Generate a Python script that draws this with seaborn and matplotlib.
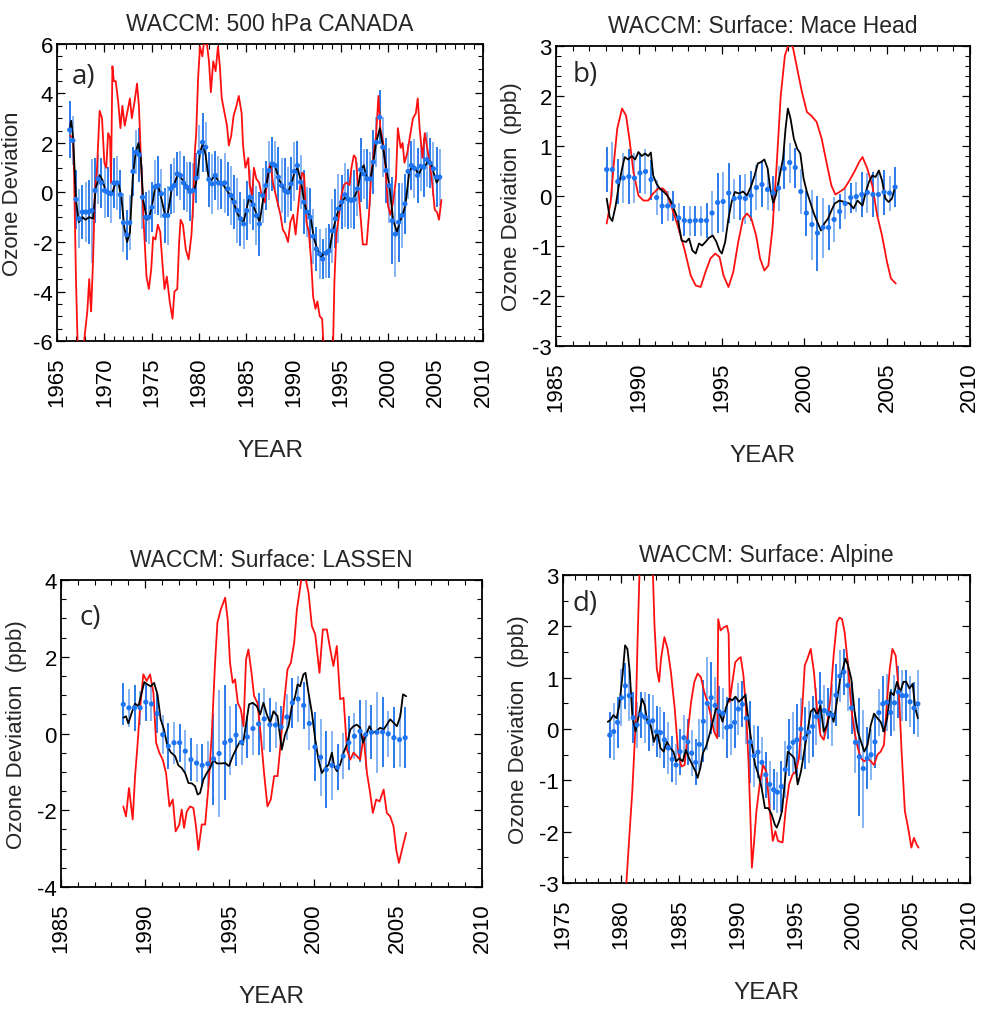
import numpy as np
import matplotlib
matplotlib.use("Agg")
import matplotlib.pyplot as plt
import seaborn as sns
from matplotlib.ticker import MultipleLocator

sns.set_style("ticks")
SANS = ["Liberation Sans", "DejaVu Sans"]
NARROW = ["Liberation Sans Narrow", "Liberation Sans", "DejaVu Sans"]
LABELF = ["Open Sans", "DejaVu Sans"]
plt.rcParams["font.family"] = SANS
plt.rcParams["axes.unicode_minus"] = False

# ---------------- Panel a: 500 hPa CANADA ----------------
a_red_years = [1966.4, 1966.7, 1966.8, 1967.0, 1967.2, 1967.6, 1968.0, 1968.2, 1968.4, 1968.5, 1968.6,
               1968.8, 1969.0, 1969.2, 1969.5, 1969.75, 1970.0, 1970.2, 1970.4, 1970.6, 1970.7, 1970.85,
               1971.0, 1971.2, 1971.45, 1971.7, 1971.9, 1972.15, 1972.4, 1972.7, 1972.9, 1973.2, 1973.45,
               1973.65, 1973.85, 1974.15, 1974.45, 1974.7, 1974.95, 1975.15, 1975.4, 1975.65, 1975.9,
               1976.1, 1976.35, 1976.6, 1976.9, 1977.2, 1977.4, 1977.7, 1977.9, 1978.05, 1978.3, 1978.6,
               1978.9, 1979.2, 1979.4, 1979.55, 1979.7, 1979.9, 1980.1, 1980.35, 1980.5, 1980.8, 1981.05,
               1981.25, 1981.5, 1981.75, 1982.0, 1982.2, 1982.4, 1982.7, 1982.95, 1983.15, 1983.4, 1983.65,
               1983.95, 1984.2, 1984.5, 1984.65, 1984.9, 1985.2, 1985.35, 1985.6, 1985.8, 1986.05, 1986.35,
               1986.6, 1986.95, 1987.3, 1987.55, 1987.8, 1988.1, 1988.35, 1988.6, 1988.85, 1989.15, 1989.4,
               1989.65, 1989.95, 1990.2, 1990.45, 1990.7, 1990.9, 1991.1, 1991.35, 1991.6, 1991.85, 1992.05,
               1992.3, 1992.5, 1992.75, 1993.0, 1993.2, 1993.7, 1994.15, 1994.3, 1994.5, 1994.8, 1995.05,
               1995.3, 1995.55, 1995.9, 1996.1, 1996.35, 1996.55, 1996.8, 1997.05, 1997.3, 1997.7, 1997.95,
               1998.2, 1998.45, 1998.7, 1998.95, 1999.15, 1999.45, 1999.7, 1999.95, 2000.2, 2000.5, 2000.8,
               2001.0, 2001.3, 2001.5, 2001.7, 2002.0, 2002.25, 2002.6, 2002.9, 2003.1, 2003.3, 2003.6,
               2003.85, 2004.1, 2004.4, 2004.65, 2004.9, 2005.15, 2005.35, 2005.6]
a_red_vals = [2.3, 2.2, 0.8, -3.5, -6.5, -7.0, -5.5, -4.8, -3.5, -4.2, -4.8,
              -2.8, 0.1, 0.8, 3.3, 3.0, 1.2, 1.0, 2.4, 2.2, 0.4, 5.1,
              4.5, 4.5, 3.7, 2.6, 3.5, 2.7, 3.2, 3.8, 3.0, 3.7, 4.4,
              3.5, 1.5, -1.2, -3.4, -3.9, -3.1, -1.8, -1.9, -1.3, -1.6,
              -2.7, -3.9, -3.4, -4.4, -5.1, -4.0, -3.9, -2.0, -1.1, -1.3, -2.3,
              -2.7, -1.7, -0.3, 1.6, 2.4, 4.6, 5.9, 5.5, 6.0, 6.1, 5.3,
              4.05, 5.3, 4.9, 5.9, 5.1, 3.8, 3.2, 2.7, 1.9, 2.3, 3.1,
              3.5, 3.9, 3.2, 1.9, 1.0, 1.4, 0.3, -0.1, 1.0, 0.55, 0.4,
              -0.1, -0.4, 0.8, 1.2, 0.4, -0.1, -0.5, -0.9, -1.5, -1.7, -2.0,
              -1.2, -0.9, -1.7, -0.7, 0.3, 0.8, 0.7, -1.2, -1.6, -2.8, -4.2,
              -4.7, -4.4, -5.0, -5.1, -6.5, -7.0, -6.3, -3.6, -1.7, -0.9, -0.1,
              0.3, 0.4, 0.3, 1.0, 1.5, 1.4, 0.3, -0.9, -2.1, -2.1, -0.9,
              0.8, 1.6, 2.3, 3.9, 2.6, 2.0, 1.0, -0.5, -0.9, -0.4, 0.55,
              2.6, 1.8, 2.0, 1.2, 1.6, 2.2, 3.0, 3.2, 3.8, 2.6, 1.4,
              2.4, 1.8, 1.1, 0.3, -0.7, -0.8, -1.1, -0.3]
a_black_years = [1966.3, 1966.5, 1966.7, 1967.0, 1967.3, 1967.7, 1968.0, 1968.4, 1968.8, 1969.1, 1969.5,
                 1969.8, 1970.1, 1970.5, 1970.8, 1971.2, 1971.5, 1971.8, 1972.1, 1972.4, 1972.7, 1973.0,
                 1973.3, 1973.6, 1973.85, 1974.1, 1974.5, 1974.8, 1975.1, 1975.4, 1975.7, 1976.0, 1976.4,
                 1976.7, 1977.1, 1977.4, 1977.8, 1978.1, 1978.5, 1978.8, 1979.2, 1979.5, 1979.8, 1980.1,
                 1980.4, 1980.7, 1981.0, 1981.3, 1981.7, 1982.1, 1982.5, 1982.9, 1983.3, 1983.7, 1984.0,
                 1984.4, 1984.7, 1985.0, 1985.3, 1985.7, 1986.1, 1986.4, 1986.8, 1987.1, 1987.4, 1987.7,
                 1988.0, 1988.4, 1988.7, 1989.1, 1989.4, 1989.8, 1990.1, 1990.4, 1990.8, 1991.1, 1991.4,
                 1991.8, 1992.1, 1992.5, 1992.9, 1993.1, 1993.4, 1993.8, 1994.1, 1994.5, 1994.8, 1995.1,
                 1995.4, 1995.7, 1996.1, 1996.4, 1996.8, 1997.1, 1997.4, 1997.7, 1998.1, 1998.4, 1998.7,
                 1999.1, 1999.4, 1999.8, 2000.1, 2000.5, 2000.9, 2001.2, 2001.5, 2001.8, 2002.2, 2002.5,
                 2002.8, 2003.2, 2003.5, 2003.8, 2004.2, 2004.5, 2004.7, 2005.1, 2005.4]
a_black_vals = [2.5, 2.9, 2.2, -0.3, -1.2, -1.0, -1.1, -1.0, -1.05, 0.2, 0.7,
                0.5, 0.1, 0.0, -0.05, 0.4, 0.35, -0.2, -1.4, -2.0, -1.6, 0.6,
                1.6, 2.0, 1.4, -0.3, -1.1, -0.9, -0.4, 0.3, 0.25, -0.2, -0.9,
                -0.85, 0.1, 0.35, 0.8, 0.6, 0.35, 0.15, 0.0, 0.1, 0.6, 1.6,
                2.0, 1.5, 0.6, 0.5, 0.7, 0.4, 0.35, 0.1, -0.1, -0.45, -0.8,
                -1.1, -1.2, -0.7, -0.2, -0.5, -0.9, -1.2, -0.2, 0.3, 0.9, 1.2,
                1.1, 0.6, 0.3, 0.05, 0.0, 0.4, 0.85, 1.0, 0.4, -0.4, -0.8,
                -1.0, -1.8, -2.3, -2.6, -2.5, -2.4, -2.3, -1.6, -1.0, -0.6, -0.4,
                -0.2, -0.3, -0.3, -0.2, 0.2, 0.9, 1.1, 0.6, 0.5, 1.2, 2.0,
                2.6, 1.9, 0.9, 0.3, -1.1, -1.6, -1.2, -0.9, -0.5, 0.8, 1.1,
                1.0, 0.7, 1.0, 1.0, 1.3, 1.2, 0.9, 0.4, 0.6]
a_blue_span = [1966.34, 2005.42]
a_blue_vals = [2.53, 2.10, -0.28, -1.06, -0.79, -0.79, -0.79, -0.73, 0.08, 0.55,
               0.39, 0.08, 0.01, -0.05, 0.39, 0.39, -0.09, -1.22, -1.71, -1.22,
               0.85, 1.63, 1.52, -0.19, -1.00, -1.00, -0.59, 0.22, 0.28, -0.05,
               -0.93, -0.93, 0.15, 0.28, 0.75, 0.69, 0.39, 0.22, 0.04, 0.08,
               0.58, 1.63, 2.03, 1.83, 0.53, 0.35, 0.69, 0.39, 0.35, 0.39,
               0.15, -0.12, -0.39, -0.73, -1.06, -1.27, -0.73, -0.19, -0.50, -0.93,
               -1.27, -0.12, 0.28, 0.89, 1.16, 1.09, 0.62, 0.28, 0.08, 0.01,
               0.35, 0.85, 1.09, 0.42, -0.39, -0.79, -1.00, -1.77, -2.28, -2.48,
               -2.69, -2.45, -2.36, -1.55, -1.06, -0.66, -0.39, -0.09, -0.26, -0.32,
               -0.28, 0.15, 0.92, 0.75, 0.55, 0.55, 1.23, 2.03, 3.04, 1.83,
               0.89, 0.28, -1.14, -1.68, -1.20, -0.93, -0.46, 0.85, 1.09, 0.98,
               0.69, 1.06, 1.02, 1.33, 1.19, 0.96, 0.62, 0.62]
a_blue_err = [1.15, 1.0, 1.2, 1.2, 1.1, 1.2, 1.3, 2.1, 1.3, 1.0,
              1.0, 1.1, 1.0, 1.2, 1.0, 1.1, 1.0, 1.2, 1.0, 1.1,
              1.0, 0.9, 1.1, 1.3, 1.0, 1.1, 1.0, 1.1, 1.2, 1.0,
              1.1, 1.2, 1.0, 1.1, 0.9, 1.0, 1.1, 1.0, 1.2, 1.1,
              1.0, 1.1, 1.2, 1.0, 1.1, 1.2, 1.0, 1.1, 1.0, 1.2,
              1.1, 1.2, 1.1, 1.3, 1.1, 1.0, 1.2, 1.1, 1.0, 1.2,
              1.3, 1.1, 1.0, 1.2, 1.1, 1.0, 1.2, 1.1, 1.3, 1.0,
              1.1, 1.2, 1.0, 1.1, 1.3, 1.0, 1.2, 1.1, 0.9, 1.0,
              0.8, 1.0, 1.1, 1.3, 1.2, 1.4, 1.1, 1.3, 1.2, 1.1,
              1.2, 1.1, 1.3, 1.0, 1.2, 1.1, 1.3, 1.0, 1.1, 1.2,
              1.3, 1.5, 1.75, 1.75, 1.6, 1.3, 1.2, 1.1, 1.0, 1.2,
              1.1, 1.0, 1.2, 1.1, 1.0, 1.1, 1.2, 1.15]

# ---------------- Panel b: Mace Head ----------------
b_red_years = [1988.06, 1988.30, 1988.50, 1988.70, 1988.99, 1989.23, 1989.43, 1989.68, 1989.98, 1990.28,
               1990.57, 1990.87, 1991.17, 1991.46, 1991.66, 1991.96, 1992.35, 1992.75, 1993.14, 1993.44,
               1993.74, 1994.03, 1994.33, 1994.62, 1994.88, 1995.12, 1995.42, 1995.71, 1996.01, 1996.30,
               1996.54, 1996.80, 1997.09, 1997.33, 1997.59, 1997.83, 1998.08, 1998.32, 1998.58, 1998.83,
               1999.07, 1999.31, 1999.57, 1999.86, 2000.16, 2000.45, 2000.75, 2001.05, 2001.34, 2001.64,
               2001.88, 2002.13, 2002.43, 2002.73, 2003.02, 2003.32, 2003.52, 2003.81, 2004.11, 2004.41,
               2004.70, 2005.00, 2005.24, 2005.53]
b_red_vals = [-0.55, -0.12, 0.68, 1.35, 1.75, 1.61, 1.15, 0.48, 0.01, -0.09,
              -0.09, 0.05, 0.15, 0.15, 0.08, -0.19, -0.59, -1.05, -1.59, -1.79,
              -1.82, -1.52, -1.25, -1.15, -1.22, -1.59, -1.82, -1.52, -0.92, -0.45,
              -0.35, -0.45, -0.79, -1.25, -1.49, -1.39, -0.65, 0.55, 2.01, 2.81,
              3.05, 2.98, 2.55, 2.08, 1.68, 1.60, 1.48, 1.15, 0.68, 0.21,
              0.03, 0.08, 0.15, 0.31, 0.48, 0.68, 0.78, 0.55, 0.21, -0.39,
              -0.79, -1.32, -1.65, -1.75]
b_black_years = [1988.06, 1988.24, 1988.40, 1988.60, 1988.79, 1988.99, 1989.15, 1989.35, 1989.58, 1989.78,
                 1989.98, 1990.18, 1990.38, 1990.57, 1990.73, 1990.87, 1991.07, 1991.26, 1991.52, 1991.72,
                 1991.92, 1992.11, 1992.35, 1992.59, 1992.85, 1993.04, 1993.24, 1993.44, 1993.64, 1993.83,
                 1994.03, 1994.23, 1994.47, 1994.68, 1994.88, 1995.02, 1995.22, 1995.42, 1995.61, 1995.81,
                 1996.07, 1996.30, 1996.54, 1996.80, 1997.00, 1997.19, 1997.39, 1997.59, 1997.79, 1997.94,
                 1998.12, 1998.28, 1998.48, 1998.72, 1998.87, 1999.01, 1999.17, 1999.37, 1999.57, 1999.76,
                 1999.96, 2000.16, 2000.36, 2000.55, 2000.75, 2001.01, 2001.21, 2001.44, 2001.64, 2001.84,
                 2002.13, 2002.43, 2002.73, 2002.98, 2003.22, 2003.52, 2003.72, 2003.91, 2004.11, 2004.31,
                 2004.51, 2004.70, 2004.90, 2005.10, 2005.30, 2005.49]
b_black_vals = [-0.05, -0.42, -0.50, -0.20, 0.20, 0.55, 0.78, 0.73, 0.80, 0.73,
                0.88, 0.80, 0.85, 0.80, 0.87, 0.41, 0.25, 0.15, 0.08, 0.01,
                -0.09, -0.25, -0.45, -0.89, -0.92, -0.85, -1.09, -1.15, -0.95, -0.99,
                -0.92, -0.84, -0.79, -0.91, -1.09, -1.15, -0.92, -0.45, -0.12, 0.08,
                0.05, 0.09, 0.01, 0.21, 0.41, 0.65, 0.68, 0.73, 0.55, 0.15,
                -0.13, 0.01, 0.35, 0.75, 1.35, 1.75, 1.55, 1.15, 0.95, 0.85,
                0.35, 0.08, -0.12, -0.32, -0.49, -0.69, -0.55, -0.45, -0.29, -0.15,
                -0.09, -0.12, -0.15, -0.25, -0.09, -0.19, 0.08, 0.28, 0.41, 0.38,
                0.51, 0.31, -0.05, -0.12, -0.05, 0.18]
b_blue_span = [1988.06, 2005.49]
b_blue_vals = [0.53, 0.53, 0.29, 0.36, 0.39, 0.36, 0.46, 0.49, 0.33, -0.03,
               -0.20, -0.20, -0.20, -0.44, -0.49, -0.50, -0.49, -0.49, -0.49, -0.34,
               -0.13, -0.11, 0.06, -0.05, -0.03, -0.05, 0.01, 0.17, 0.23, 0.13,
               0.06, 0.16, 0.55, 0.67, 0.57, 0.09, -0.34, -0.57, -0.74, -0.63,
               -0.63, -0.47, -0.31, -0.15, -0.03, -0.01, 0.03, 0.07, 0.03, 0.03,
               0.08, 0.06, 0.18]
b_blue_err = [0.45, 0.55, 0.45, 0.5, 0.55, 0.5, 0.4, 0.45, 0.4, 0.35,
              0.35, 0.3, 0.3, 0.3, 0.3, 0.3, 0.3, 0.3, 0.35, 0.45,
              0.6, 0.6, 0.6, 0.4, 0.45, 0.5, 0.5, 0.45, 0.45, 0.4,
              0.35, 0.45, 0.4, 0.4, 0.4, 0.45, 0.45, 0.7, 0.75, 0.6,
              0.45, 0.45, 0.35, 0.3, 0.3, 0.3, 0.45, 0.4, 0.45, 0.45,
              0.45, 0.35, 0.4]

# ---------------- Panel c: LASSEN ----------------
c_red_years = [1988.70, 1988.86, 1989.04, 1989.26, 1989.40, 1989.54, 1989.69, 1989.89, 1990.09, 1990.29,
               1990.49, 1990.65, 1990.84, 1991.04, 1991.24, 1991.44, 1991.64, 1991.81, 1992.03, 1992.17,
               1992.31, 1992.47, 1992.67, 1992.86, 1993.02, 1993.16, 1993.36, 1993.56, 1993.76, 1993.95,
               1994.15, 1994.29, 1994.49, 1994.75, 1994.90, 1995.04, 1995.20, 1995.34, 1995.50, 1995.68,
               1995.84, 1995.99, 1996.13, 1996.29, 1996.47, 1996.67, 1996.87, 1997.06, 1997.26, 1997.46,
               1997.66, 1997.86, 1998.05, 1998.25, 1998.45, 1998.65, 1998.85, 1999.01, 1999.16, 1999.30,
               1999.50, 1999.70, 1999.90, 2000.10, 2000.35, 2000.55, 2000.79, 2000.99, 2001.18, 2001.38,
               2001.58, 2001.78, 2001.98, 2002.18, 2002.37, 2002.57, 2002.77, 2002.97, 2003.17, 2003.36,
               2003.52, 2003.72, 2003.92, 2004.16, 2004.35, 2004.55, 2004.75, 2004.91, 2005.07, 2005.25,
               2005.50]
c_red_vals = [-1.90, -2.16, -1.42, -2.24, -1.11, -0.33, 0.63, 1.54, 1.37, 1.54,
              1.06, -0.24, -0.50, -0.68, -1.03, -1.90, -1.72, -2.55, -2.37, -1.98,
              -2.46, -2.03, -1.90, -1.94, -2.42, -3.03, -2.37, -2.37, -1.37, -0.07,
              1.84, 2.89, 3.23, 3.54, 2.97, 1.84, 1.32, 1.41, 0.80, 0.63,
              0.19, 1.93, 2.19, 1.67, 0.97, 0.80, -0.07, -1.03, -1.90, -1.72,
              -1.11, -1.11, -0.24, 0.80, 1.67, 1.84, 2.37, 3.23, 3.67, 4.10,
              4.10, 3.67, 2.80, 2.58, 1.58, 2.71, 2.71, 2.19, 1.76, 2.28,
              0.89, 0.93, -0.42, -0.68, -0.50, -0.59, -0.68, -0.07, -1.03, -1.55,
              -2.07, -1.72, -1.77, -1.46, -2.07, -2.16, -2.42, -3.03, -3.37, -3.03,
              -2.59]
c_black_years = [1988.70, 1988.86, 1989.00, 1989.20, 1989.40, 1989.60, 1989.79, 1989.95, 1990.13, 1990.33,
                 1990.53, 1990.73, 1990.92, 1991.12, 1991.32, 1991.52, 1991.78, 1991.97, 1992.17, 1992.37,
                 1992.57, 1992.77, 1992.96, 1993.12, 1993.26, 1993.46, 1993.66, 1993.86, 1994.05, 1994.25,
                 1994.49, 1994.75, 1994.98, 1995.20, 1995.44, 1995.64, 1995.80, 1995.97, 1996.17, 1996.39,
                 1996.63, 1996.83, 1997.02, 1997.22, 1997.42, 1997.62, 1997.86, 1998.11, 1998.31, 1998.51,
                 1998.71, 1998.91, 1999.05, 1999.20, 1999.40, 1999.52, 1999.70, 1999.90, 2000.10, 2000.29,
                 2000.49, 2000.69, 2000.89, 2001.09, 2001.22, 2001.38, 2001.58, 2001.78, 2001.98, 2002.18,
                 2002.37, 2002.57, 2002.77, 2002.93, 2003.13, 2003.32, 2003.52, 2003.72, 2003.96, 2004.16,
                 2004.35, 2004.55, 2004.75, 2004.95, 2005.15, 2005.31, 2005.50]
c_black_vals = [0.41, 0.45, 0.26, 0.54, 0.78, 0.71, 1.06, 1.34, 1.28, 1.23,
                1.32, 1.02, 0.37, 0.10, -0.33, -0.49, -0.59, -0.83, -0.90, -1.03,
                -1.29, -1.30, -1.37, -1.59, -1.55, -1.20, -1.03, -0.90, -0.68, -0.78,
                -0.78, -0.77, -0.85, -0.59, -0.37, -0.20, -0.29, 0.19, 0.76, 0.80,
                0.71, 0.50, 0.80, 0.50, 0.28, 0.58, 0.45, -0.42, -0.03, 0.19,
                0.71, 0.97, 1.28, 1.23, 1.54, 1.58, 1.06, 0.54, -0.16, -0.68,
                -1.03, -0.90, -0.81, -0.50, -0.85, -0.98, -0.81, -0.50, -0.29, 0.10,
                0.19, 0.23, 0.15, -0.24, -0.03, 0.19, 0.02, 0.06, 0.15, 0.10,
                0.23, 0.37, 0.28, 0.19, 0.45, 1.02, 0.97]
c_blue_span = [1988.70, 2005.44]
c_blue_vals = [0.76, 0.67, 0.67, 0.67, 0.82, 0.77, 0.52, -0.03, -0.33, -0.24,
               -0.24, -0.46, -0.68, -0.77, -0.83, -0.79, -0.66, -0.52, -0.24, -0.18,
               -0.04, -0.23, -0.09, 0.13, 0.25, 0.38, 0.23, 0.22, 0.17, 0.43,
               0.80, 0.90, 0.73, 0.26, -0.35, -0.62, -0.94, -0.83, -0.88, -0.59,
               -0.24, -0.07, 0.06, -0.03, 0.03, 0.03, 0.04, -0.01, -0.11, -0.16,
               -0.11]
c_blue_err = [0.55, 0.5, 0.6, 0.45, 0.5, 0.45, 0.5, 0.5, 0.6, 0.55,
              0.5, 0.55, 0.55, 0.5, 0.55, 0.6, 1.2, 1.65, 1.5, 0.9,
              0.8, 0.6, 0.55, 0.7, 0.8, 0.8, 0.7, 0.6, 0.55, 0.6,
              0.65, 0.6, 0.6, 0.7, 0.9, 1.0, 1.0, 0.9, 0.6, 0.6,
              0.7, 0.6, 0.8, 0.9, 0.7, 1.05, 0.9, 0.6, 0.8, 0.7,
              0.8]

# ---------------- Panel d: Alpine ----------------
d_red_years = [1980.25, 1980.45, 1980.68, 1980.96, 1981.24, 1981.41, 1981.58, 1981.9, 1982.3, 1982.73,
               1982.87, 1983.07, 1983.27, 1983.43, 1983.72, 1984.00, 1984.28, 1984.61, 1984.90, 1985.18,
               1985.46, 1985.74, 1986.02, 1986.30, 1986.58, 1986.86, 1987.15, 1987.43, 1987.71, 1987.99,
               1988.27, 1988.35, 1988.55, 1988.83, 1989.11, 1989.25, 1989.34, 1989.53, 1989.82, 1990.10,
               1990.29, 1990.52, 1990.74, 1990.97, 1991.14, 1991.25, 1991.42, 1991.64, 1991.92, 1992.21,
               1992.49, 1992.77, 1993.05, 1993.27, 1993.50, 1993.89, 1994.17, 1994.45, 1994.74, 1995.02,
               1995.30, 1995.58, 1995.80, 1996.03, 1996.31, 1996.59, 1996.87, 1997.15, 1997.43, 1997.72,
               1998.00, 1998.28, 1998.56, 1998.78, 1999.01, 1999.23, 1999.52, 1999.80, 2000.08, 2000.36,
               2000.64, 2000.92, 2001.20, 2001.48, 2001.76, 2002.05, 2002.33, 2002.61, 2002.89, 2003.11,
               2003.34, 2003.62, 2003.90, 2004.13, 2004.41, 2004.69, 2004.97, 2005.19, 2005.42, 2005.59]
d_red_vals = [-4.2, -3.0, -2.18, -1.21, 0.08, 1.69, 3.05, 5.0, 4.5, 3.05,
              2.01, 1.17, 0.92, 1.37, 1.79, 1.56, 1.11, 0.40, -0.44, -0.73,
              -0.70, -0.05, 0.53, 0.92, 1.08, 1.01, 0.72, 0.53, 0.27, -0.05,
              -0.18, 2.14, 1.92, 1.98, 2.01, 1.85, 0.53, 0.85, 1.30, 1.37,
              1.40, 1.05, 0.40, -0.70, -1.86, -2.70, -2.25, -1.60, -1.08, -0.70,
              -0.83, -1.54, -2.18, -1.99, -2.18, -2.21, -1.54, -1.08, -0.89, -0.83,
              -0.57, 0.40, 1.24, 1.37, 1.56, 1.11, 0.34, -0.12, -0.21, 0.08,
              0.59, 1.43, 2.08, 2.17, 2.14, 1.88, 1.24, 0.40, -0.05, -0.37,
              -0.57, -0.63, -0.57, -0.63, -0.70, -0.50, -0.44, -0.31, 0.59, 1.17,
              1.56, 1.43, 0.72, -0.44, -1.60, -1.92, -2.31, -2.12, -2.25, -2.31]
d_black_years = [1978.85, 1979.05, 1979.33, 1979.61, 1979.84, 1980.12, 1980.34, 1980.54, 1980.74, 1980.96,
                 1981.24, 1981.52, 1981.80, 1982.03, 1982.25, 1982.53, 1982.82, 1983.10, 1983.38, 1983.66,
                 1983.94, 1984.22, 1984.50, 1984.73, 1985.01, 1985.29, 1985.57, 1985.85, 1986.13, 1986.41,
                 1986.58, 1986.81, 1987.03, 1987.31, 1987.59, 1987.88, 1988.16, 1988.44, 1988.72, 1989.00,
                 1989.28, 1989.56, 1989.84, 1990.13, 1990.41, 1990.69, 1990.97, 1991.25, 1991.53, 1991.81,
                 1992.09, 1992.37, 1992.66, 1992.94, 1993.22, 1993.39, 1993.61, 1993.84, 1994.06, 1994.34,
                 1994.62, 1994.90, 1995.19, 1995.47, 1995.75, 1996.03, 1996.31, 1996.59, 1996.87, 1997.15,
                 1997.43, 1997.72, 1998.00, 1998.28, 1998.56, 1998.84, 1999.07, 1999.29, 1999.52, 1999.80,
                 2000.08, 2000.36, 2000.64, 2000.92, 2001.20, 2001.48, 2001.76, 2002.05, 2002.33, 2002.61,
                 2002.89, 2003.17, 2003.45, 2003.73, 2004.01, 2004.29, 2004.52, 2004.80, 2005.08, 2005.31,
                 2005.53]
d_black_vals = [0.14, 0.17, 0.27, 0.21, 0.46, 1.05, 1.63, 1.56, 1.11, 0.27,
                -0.05, 0.27, 0.59, 0.46, 0.14, 0.08, -0.25, -0.05, -0.37, -0.44,
                -0.25, -0.37, -0.44, -0.63, -0.57, -0.63, -0.41, -0.57, -0.70, -0.83,
                -0.95, -0.76, -0.47, -0.34, -0.12, 0.14, 0.40, 0.34, 0.14, 0.40,
                0.59, 0.56, 0.63, 0.53, 0.59, 0.66, 0.14, -0.31, -0.70, -0.89,
                -1.15, -1.54, -1.54, -1.66, -1.86, -1.92, -1.79, -1.60, -1.08, -0.44,
                -0.50, -0.57, -1.08, -0.83, -0.44, -0.05, 0.34, 0.40, 0.27, 0.46,
                -0.05, 0.08, 0.34, 0.14, 0.53, 0.98, 1.17, 1.37, 1.24, 0.98,
                0.34, -0.05, -0.25, -0.44, -0.31, 0.08, 0.30, 0.21, 0.14, -0.05,
                0.21, 0.72, 0.66, 0.92, 0.72, 0.92, 0.92, 0.79, 0.88, 0.40,
                0.21]
d_blue_span = [1979.02, 2005.53]
d_blue_vals = [-0.12, -0.05, 0.13, 0.61, 0.84, 0.65, 0.22, 0.08, 0.28, 0.23,
               0.13, 0.16, -0.05, -0.07, -0.21, -0.37, -0.59, -0.70, -0.44, -0.17,
               -0.25, -0.47, -0.65, -0.30, 0.15, 0.50, 0.61, 0.46, 0.34, 0.30,
               0.03, 0.05, 0.13, 0.39, 0.48, 0.21, -0.25, -0.52, -0.45, -0.65,
               -0.89, -1.08, -1.18, -1.23, -1.12, -0.79, -0.36, -0.26, -0.21, 0.00,
               -0.18, -0.06, 0.05, 0.24, 0.52, 0.36, 0.30, 0.27, 0.66, 1.03,
               1.11, 0.85, 0.41, -0.26, -0.54, -0.77, -0.57, -0.50, -0.25, 0.32,
               0.49, 0.52, 0.32, 0.51, 0.72, 0.65, 0.65, 0.53, 0.41, 0.49]
d_blue_err = [0.45, 0.55, 0.5, 0.55, 0.45, 0.5, 0.5, 0.45, 0.45, 0.5,
              0.55, 0.5, 0.5, 0.5, 0.55, 0.5, 0.45, 0.4, 0.45, 0.45,
              0.45, 0.45, 0.45, 0.5, 0.8, 0.9, 0.7, 0.55, 0.5, 0.5,
              0.6, 0.55, 0.5, 0.5, 0.45, 0.5, 0.8, 0.6, 0.5, 0.5,
              0.45, 0.45, 0.4, 0.4, 0.5, 0.55, 0.55, 0.6, 0.7, 0.6,
              0.6, 0.6, 0.6, 0.55, 0.6, 0.5, 0.5, 0.6, 0.6, 0.5,
              0.45, 0.5, 0.5, 0.6, 1.15, 1.15, 0.6, 0.5, 0.5, 0.45,
              0.55, 0.55, 0.45, 0.55, 0.5, 0.5, 0.5, 0.5, 0.5, 0.65]

titles = ["WACCM: 500 hPa CANADA", "WACCM: Surface: Mace Head",
          "WACCM: Surface: LASSEN", "WACCM: Surface: Alpine"]
ylabels = ["Ozone Deviation", "Ozone Deviation  (ppb)",
           "Ozone Deviation  (ppb)", "Ozone Deviation  (ppb)"]
panel_tags = ["a)", "b)", "c)", "d)"]
xranges = [(1965, 2010), (1985, 2010), (1985, 2010), (1975, 2010)]
yranges = [(-6, 6), (-3, 3), (-4, 4), (-3, 3)]
ymajor = [2, 1, 2, 1]
yminor = [0.5, 0.2, 0.5, 0.5]

panels = [
    (a_red_years, a_red_vals, a_black_years, a_black_vals, a_blue_span, a_blue_vals, a_blue_err),
    (b_red_years, b_red_vals, b_black_years, b_black_vals, b_blue_span, b_blue_vals, b_blue_err),
    (c_red_years, c_red_vals, c_black_years, c_black_vals, c_blue_span, c_blue_vals, c_blue_err),
    (d_red_years, d_red_vals, d_black_years, d_black_vals, d_blue_span, d_blue_vals, d_blue_err),
]

# axes rectangles (figure fractions)
rects = [
    [0.0579, 0.6647, 0.4325, 0.2912],
    [0.5645, 0.6598, 0.4200, 0.2941],
    [0.0619, 0.1294, 0.4274, 0.3010],
    [0.5716, 0.1333, 0.4130, 0.3020],
]
tagpos = [(0.035, 0.892), (0.04, 0.907), (0.043, 0.881), (0.024, 0.909)]

fig = plt.figure(figsize=(9.85, 10.2), dpi=100)
fig.patch.set_facecolor("white")

RED = "#ff1010"
DOT = "#1f74f2"
BAR_DARK = "#2a7be9"
BAR_LIGHT = "#86b4f2"

for i, (ry, rv, ky, kv, span, bv, be) in enumerate(panels):
    ax = fig.add_axes(rects[i])
    bv = np.asarray(bv)
    be = np.asarray(be)
    bx = np.linspace(span[0], span[1], len(bv))
    cols = [BAR_DARK if j % 2 == 0 else BAR_LIGHT for j in range(len(bv))]
    ax.vlines(bx, bv - be, bv + be, colors=cols, linewidth=1.4, zorder=2)
    sns.lineplot(x=ry, y=rv, ax=ax, color=RED, linewidth=1.3, sort=False,
                 estimator=None, zorder=3)
    sns.lineplot(x=ky, y=kv, ax=ax, color="black", linewidth=1.3, sort=False,
                 estimator=None, zorder=4)
    sns.scatterplot(x=bx, y=bv, ax=ax, color=DOT, s=14, edgecolor="none",
                    linewidth=0, zorder=5)

    ax.set_xlim(*xranges[i])
    ax.set_ylim(*yranges[i])
    ax.xaxis.set_major_locator(MultipleLocator(5))
    ax.xaxis.set_minor_locator(MultipleLocator(1))
    ax.yaxis.set_major_locator(MultipleLocator(ymajor[i]))
    ax.yaxis.set_minor_locator(MultipleLocator(yminor[i]))
    ax.tick_params(which="both", direction="in", top=True, right=True, colors="black")
    ax.tick_params(which="major", length=6, width=0.9)
    ax.tick_params(which="minor", length=3.5, width=0.8)
    ax.tick_params(axis="x", which="major", pad=11, labelsize=16, labelrotation=90)
    ax.tick_params(axis="y", which="major", pad=3, labelsize=16)
    for lab in ax.get_xticklabels() + ax.get_yticklabels():
        lab.set_fontfamily(SANS)
    for sp in ax.spines.values():
        sp.set_linewidth(1.3)
        sp.set_color("black")
    ax.set_title(titles[i], fontsize=16.5, fontfamily=NARROW, pad=10)
    ax.set_xlabel("YEAR", fontsize=17.5, fontfamily=NARROW, labelpad=24)
    ax.set_ylabel(ylabels[i], fontsize=16, fontfamily=SANS, labelpad=7)
    ax.text(tagpos[i][0], tagpos[i][1], panel_tags[i], transform=ax.transAxes,
            fontsize=20, fontfamily=LABELF, ha="left", va="center")
    ax.grid(False)

fig.savefig("out.png", dpi=100, facecolor="white")
